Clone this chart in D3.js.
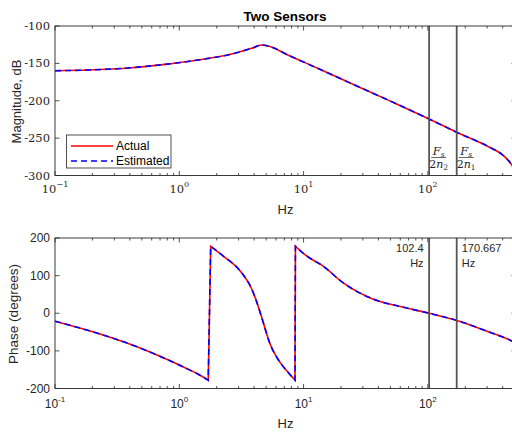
<!DOCTYPE html>
<html>
<head>
<meta charset="utf-8">
<script src="https://cdn.jsdelivr.net/npm/d3@7"></script>
<style>
body { margin: 0; background: #fff; }
text { fill: #262626; }
</style>
</head>
<body>
<script>
//svg size
var w = 512, h = 432;

//frequency grid and values
var magFreq = [0.1, 0.185, 0.414, 0.768, 1.42, 2.64, 3.82, 4.6, 5.2, 7.53, 10.26, 20, 50, 102.4, 170.7, 300, 400, 474, 512];
var actualMag = [-159.8, -158.9, -155.8, -151.3, -145.5, -137.5, -129.9, -125.4, -126.8, -139, -149, -170.7, -200.5, -224.4, -242.2, -260.6, -272.6, -286, -296];
var estimatedMag = [-159.8, -158.9, -155.8, -151.3, -145.5, -137.5, -129.9, -125.4, -126.8, -139, -149, -170.7, -200.5, -224.4, -242.2, -260.6, -272.6, -286, -296];

var phaseFreq = [0.1, 0.15, 0.23, 0.37, 0.58, 0.8, 1.08, 1.4, 1.71, 1.79, 2.26, 3.08, 3.82, 4.2, 4.6, 5.37, 6.45, 7.5, 8.53, 8.6, 10.5, 14.3, 20.6, 36, 60, 102.4, 170.7, 312, 474, 512];
var actualPhase = [-21, -37, -55, -78, -103, -123, -143, -161, -178, 178, 152, 113, 65, 30, -10.6, -81, -130, -157, -178, 178, 153, 126, 82, 38, 18, 0, -19, -50, -74, -80];
var estimatedPhase = [-21, -37, -55, -78, -103, -123, -143, -161, -178, 178, 152, 113, 65, 30, -10.6, -81, -130, -157, -178, 178, 153, 126, 82, 38, 18, 0, -19, -50, -74, -80];

//marker lines: Fs/(2n) with Fs = 1024
var markerFreq = [102.4, 170.667];
var markerText = ["102.4", "170.667"];
var markerSub = ["2", "1"];

var xTicks = [0.1, 1, 10, 100];
var xTickExp = ["-1", "0", "1", "2"];
var magTicks = [-100, -150, -200, -250, -300];
var phaseTicks = [200, 100, 0, -100, -200];

var seriesNames = ["Actual", "Estimated"];

var svg = d3.select("body")
    .append("svg")
    .attr("width", w)
    .attr("height", h)
    .style("font-family", "'Liberation Sans', Arial, sans-serif");

//shared log x scale (axes go slightly past the picture edge)
var x = d3.scaleLog()
    .domain([0.1, 512])
    .range([55, 516]);

var yMag = d3.scaleLinear()
    .domain([-300, -100])
    .range([175.5, 26]);

var yPhase = d3.scaleLinear()
    .domain([-200, 200])
    .range([388.5, 238]);

//minor ticks 2..9 per decade
var minorTicks = [];
[0.1, 1, 10, 100].forEach(function(d){
    for (var k = 2; k <= 9; k++) {
        if (d * k <= 512) minorTicks.push(d * k);
    }
});

function drawPanel(y, yTicks, serif, clipId) {
    var g = svg.append("g");
    var top = y.range()[1], bottom = y.range()[0];
    var left = x.range()[0], right = x.range()[1];

    g.append("clipPath")
        .attr("id", clipId)
        .append("rect")
        .attr("x", left)
        .attr("y", top)
        .attr("width", right - left)
        .attr("height", bottom - top);

    //x ticks, inward, bottom and top
    var xt = g.append("g").attr("stroke", "#262626").attr("stroke-width", 0.8);
    xTicks.forEach(function(t){
        xt.append("line").attr("x1", x(t)).attr("x2", x(t)).attr("y1", bottom).attr("y2", bottom - 4.5);
        xt.append("line").attr("x1", x(t)).attr("x2", x(t)).attr("y1", top).attr("y2", top + 4.5);
    });
    minorTicks.forEach(function(t){
        xt.append("line").attr("x1", x(t)).attr("x2", x(t)).attr("y1", bottom).attr("y2", bottom - 2.5);
        xt.append("line").attr("x1", x(t)).attr("x2", x(t)).attr("y1", top).attr("y2", top + 2.5);
    });
    yTicks.forEach(function(t){
        xt.append("line").attr("x1", left).attr("x2", left + 4.5).attr("y1", y(t)).attr("y2", y(t));
        xt.append("line").attr("x1", right).attr("x2", right - 4.5).attr("y1", y(t)).attr("y2", y(t));
    });

    //tick labels
    var font = serif ? "'DejaVu Serif', 'Liberation Serif', serif" : "'Liberation Sans', Arial, sans-serif";
    var xl = g.selectAll(".xlab")
        .data(xTicks)
        .enter()
        .append("text")
        .attr("x", function(d){ return x(d); })
        .attr("y", bottom + (serif ? 17 : 19))
        .attr("text-anchor", "middle")
        .style("font-family", font)
        .style("font-size", serif ? "11.5px" : "12px");
    xl.append("tspan").text("10");
    xl.append("tspan")
        .attr("dy", -6)
        .style("font-size", "8px")
        .text(function(d, i){
            return serif ? xTickExp[i].replace("-", "\u2212") : xTickExp[i];
        });

    g.selectAll(".ylab")
        .data(yTicks)
        .enter()
        .append("text")
        .attr("x", left - 5)
        .attr("y", function(d){ return y(d) + 4; })
        .attr("text-anchor", "end")
        .style("font-family", font)
        .style("font-size", serif ? "11.5px" : "12px")
        .text(function(d){ return d; });

    return g;
}

var magPanel = drawPanel(yMag, magTicks, true, "clipMag");
var phasePanel = drawPanel(yPhase, phaseTicks, false, "clipPhase");

//split at phase wraps so each piece is smoothed on its own, then join with straight jumps
function pathFor(y, pts) {
    var line = d3.line()
        .x(function(d){ return x(d[0]); })
        .y(function(d){ return y(d[1]); })
        .curve(d3.curveMonotoneX);
    var pieces = [[pts[0]]];
    for (var i = 1; i < pts.length; i++) {
        if (Math.abs(pts[i][1] - pts[i - 1][1]) > 180) pieces.push([]);
        pieces[pieces.length - 1].push(pts[i]);
    }
    return pieces.map(function(p, i){
        var d = line(p);
        return i === 0 ? d : "L" + d.slice(1);
    }).join("");
}

//curves
function drawCurves(panel, y, values, clipId) {
    var cg = panel.append("g").attr("clip-path", "url(#" + clipId + ")");
    cg.append("path")
        .attr("d", pathFor(y, values[0]))
        .attr("fill", "none")
        .attr("stroke", "#ff0000")
        .attr("stroke-width", 1.6);
    cg.append("path")
        .attr("d", pathFor(y, values[1]))
        .attr("fill", "none")
        .attr("stroke", "#0000ff")
        .attr("stroke-width", 1.6)
        .attr("stroke-dasharray", "6,4");
    //marker lines
    cg.selectAll(".marker")
        .data(markerFreq)
        .enter()
        .append("line")
        .attr("x1", function(d){ return x(d); })
        .attr("x2", function(d){ return x(d); })
        .attr("y1", y.range()[1])
        .attr("y2", y.range()[0])
        .attr("stroke", "#555")
        .attr("stroke-width", 1.8);
}

function zip(f, v) {
    return f.map(function(d, i){ return [d, v[i]]; });
}

drawCurves(magPanel, yMag, [zip(magFreq, actualMag), zip(magFreq, estimatedMag)], "clipMag");
drawCurves(phasePanel, yPhase, [zip(phaseFreq, actualPhase), zip(phaseFreq, estimatedPhase)], "clipPhase");

//axes boxes on top
[yMag, yPhase].forEach(function(y){
    svg.append("rect")
        .attr("x", x.range()[0])
        .attr("y", y.range()[1])
        .attr("width", x.range()[1] - x.range()[0])
        .attr("height", y.range()[0] - y.range()[1])
        .attr("fill", "none")
        .attr("stroke", "#262626")
        .attr("stroke-width", 0.9);
});

//fraction labels Fs/(2n) in the magnitude panel
var frac = magPanel.selectAll(".frac")
    .data(markerFreq)
    .enter()
    .append("g")
    .attr("transform", function(d){ return "translate(" + (x(d) + 1.5) + ",0)"; })
    .style("font-family", "'DejaVu Serif', 'Liberation Serif', serif");
frac.append("text")
    .attr("x", 8)
    .attr("y", 155)
    .attr("text-anchor", "middle")
    .style("font-size", "11.5px")
    .style("font-style", "italic")
    .html("F<tspan dy='2' style='font-size:7.5px'>s</tspan>");
frac.append("line")
    .attr("x1", 0.5)
    .attr("x2", 15.5)
    .attr("y1", 157.5)
    .attr("y2", 157.5)
    .attr("stroke", "#262626")
    .attr("stroke-width", 0.7);
frac.append("text")
    .attr("x", 8)
    .attr("y", 167.5)
    .attr("text-anchor", "middle")
    .style("font-size", "11px")
    .html(function(d, i){
        return "2<tspan style='font-style:italic'>n</tspan><tspan dy='2' style='font-size:7.5px'>" + markerSub[i] + "</tspan>";
    });

//frequency labels in the phase panel
var fl = phasePanel.selectAll(".flab")
    .data(markerFreq)
    .enter()
    .append("text")
    .attr("text-anchor", function(d, i){ return i === 0 ? "end" : "start"; })
    .style("font-size", "11px");
fl.append("tspan")
    .attr("x", function(d, i){ return i === 0 ? x(d) - 5.5 : x(d) + 5; })
    .attr("y", 252)
    .text(function(d, i){ return markerText[i]; });
fl.append("tspan")
    .attr("x", function(d, i){ return i === 0 ? x(d) - 5.5 : x(d) + 5; })
    .attr("y", 266.5)
    .text("Hz");

//titles and axis labels
svg.append("text")
    .attr("x", 285)
    .attr("y", 20.5)
    .attr("text-anchor", "middle")
    .style("font-size", "13.5px")
    .style("font-weight", "bold")
    .style("fill", "#000")
    .text("Two Sensors");

svg.append("text")
    .attr("x", 285.5)
    .attr("y", 213.5)
    .attr("text-anchor", "middle")
    .style("font-size", "13px")
    .text("Hz");
svg.append("text")
    .attr("x", 285.5)
    .attr("y", 428)
    .attr("text-anchor", "middle")
    .style("font-size", "13px")
    .text("Hz");

svg.append("text")
    .attr("transform", "translate(21,101.5) rotate(-90)")
    .attr("text-anchor", "middle")
    .style("font-size", "13px")
    .text("Magnitude, dB");
svg.append("text")
    .attr("transform", "translate(18,314) rotate(-90)")
    .attr("text-anchor", "middle")
    .style("font-size", "13.5px")
    .text("Phase (degrees)");

//legend
var legend = svg.append("g");
legend.append("rect")
    .attr("x", 66.5)
    .attr("y", 135)
    .attr("width", 104.5)
    .attr("height", 33)
    .attr("fill", "#fff")
    .attr("stroke", "#262626")
    .attr("stroke-width", 0.8);
var legendColors = ["#ff0000", "#0000ff"];
var legendDash = [null, "6,4"];
seriesNames.forEach(function(name, i){
    var ly = 146 + i * 15;
    legend.append("line")
        .attr("x1", 71)
        .attr("x2", 113)
        .attr("y1", ly)
        .attr("y2", ly)
        .attr("stroke", legendColors[i])
        .attr("stroke-width", 1.6)
        .attr("stroke-dasharray", legendDash[i]);
    legend.append("text")
        .attr("x", 116)
        .attr("y", ly + 4)
        .style("font-size", "12px")
        .style("fill", "#000")
        .text(name);
});
</script>
</body>
</html>
